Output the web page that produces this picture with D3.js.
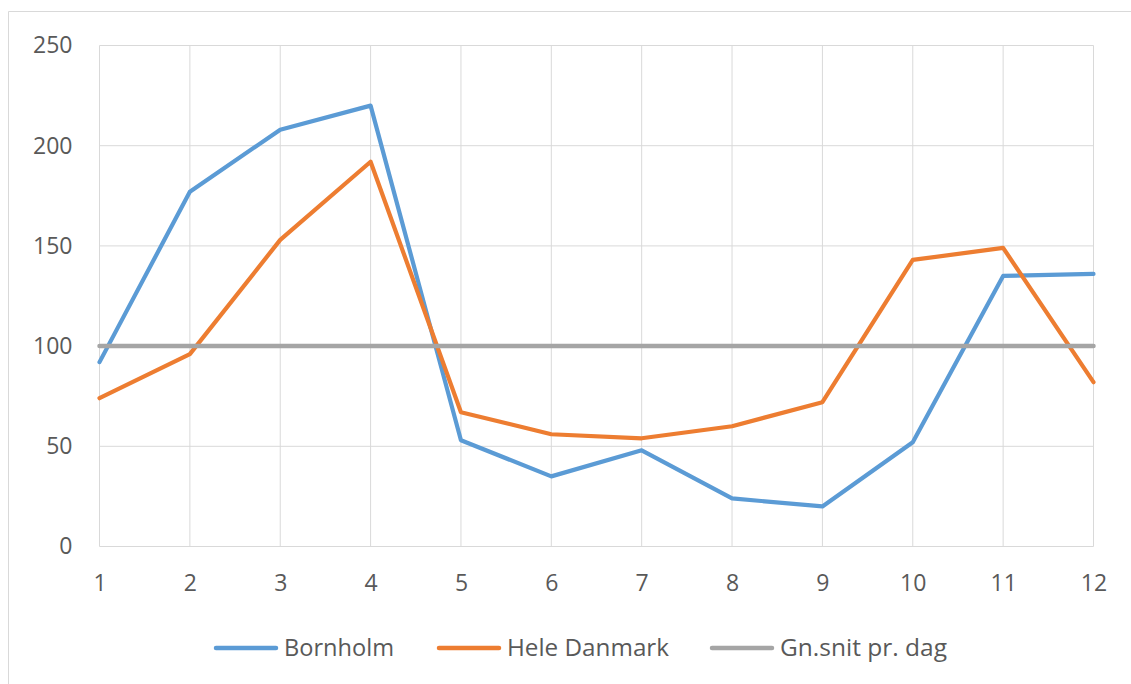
<!DOCTYPE html>
<html>
<head>
<meta charset="utf-8">
<script src="https://cdn.jsdelivr.net/npm/d3@7"></script>
<style>
  html, body { margin: 0; padding: 0; background: #fff; }
  svg { display: block; }
  text { font-family: "Open Sans", "Noto Sans", sans-serif; fill: #595959; }
</style>
</head>
<body>
<svg id="chart" width="1131" height="684"></svg>
<script>
const months = [1, 2, 3, 4, 5, 6, 7, 8, 9, 10, 11, 12];
const bornholm = [92, 177, 208, 220, 53, 35, 48, 24, 20, 52, 135, 136];
const heleDanmark = [74, 96, 153, 192, 67, 56, 54, 60, 72, 143, 149, 82];
const gnSnit = [100, 100, 100, 100, 100, 100, 100, 100, 100, 100, 100, 100];
const yTicks = [0, 50, 100, 150, 200, 250];
const seriesNames = ["Bornholm", "Hele Danmark", "Gn.snit pr. dag"];
const seriesColors = ["#5b9bd5", "#ed7d31", "#a5a5a5"];

const svg = d3.select("#chart");

// outer chart border (top & left visible)
svg.append("line").attr("x1", 8.5).attr("x2", 1131).attr("y1", 11.5).attr("y2", 11.5)
  .attr("stroke", "#d9d9d9").attr("stroke-width", 1);
svg.append("line").attr("x1", 8.5).attr("x2", 8.5).attr("y1", 11.5).attr("y2", 684)
  .attr("stroke", "#d9d9d9").attr("stroke-width", 1);

const x = d3.scaleLinear().domain([1, 12]).range([99.5, 1093.5]);
const y = d3.scaleLinear().domain([0, 250]).range([546.5, 45.5]);

const g = svg.append("g");

// grid
g.selectAll("line.vgrid").data(months).join("line")
  .attr("class", "vgrid")
  .attr("x1", d => x(d)).attr("x2", d => x(d))
  .attr("y1", y(250)).attr("y2", y(0))
  .attr("stroke", "#d9d9d9").attr("stroke-width", 1);
g.selectAll("line.hgrid").data(yTicks).join("line")
  .attr("class", "hgrid")
  .attr("x1", x(1)).attr("x2", x(12))
  .attr("y1", d => y(d)).attr("y2", d => y(d))
  .attr("stroke", "#d9d9d9").attr("stroke-width", 1);

// y tick labels
const yAxis = d3.axisLeft(y).tickValues(yTicks).tickSize(0).tickPadding(27);
const ya = svg.append("g").attr("transform", `translate(${x(1)},0)`).call(yAxis);
ya.select(".domain").remove();
ya.selectAll("text").style("font-size", "23px").attr("fill", "#595959")
  .style("font-family", '"Open Sans", sans-serif');

// x tick labels
const xAxis = d3.axisBottom(x).tickValues(months).tickSize(0).tickPadding(28);
const xa = svg.append("g").attr("transform", `translate(0,${y(0)})`).call(xAxis);
xa.select(".domain").remove();
xa.selectAll("text").style("font-size", "23px").attr("fill", "#595959")
  .style("font-family", '"Open Sans", sans-serif');

// lines
const lineGen = d3.line().x((d, i) => x(months[i])).y(d => y(d));
const allSeries = [bornholm, heleDanmark, gnSnit];
svg.selectAll("path.series").data(allSeries).join("path")
  .attr("class", "series")
  .attr("d", d => lineGen(d))
  .attr("fill", "none")
  .attr("stroke", (d, i) => seriesColors[i])
  .attr("stroke-width", (d, i) => i === 2 ? 4.5 : 4.2)
  .attr("stroke-linejoin", "round")
  .attr("stroke-linecap", "round");

// legend
const legendX = [216, 439, 712];
const legendTextLen = [110, 162, 167];
const leg = svg.selectAll("g.leg").data(seriesNames).join("g")
  .attr("class", "leg")
  .attr("transform", (d, i) => `translate(${legendX[i]},648)`);
leg.append("line").attr("x1", 0).attr("x2", 60).attr("y1", 0).attr("y2", 0)
  .attr("stroke", (d, i) => seriesColors[i]).attr("stroke-width", 4.5)
  .attr("stroke-linecap", "round");
leg.append("text").attr("x", 68).attr("y", 0).attr("dy", "0.35em")
  .style("font-size", "23px")
  .attr("textLength", (d, i) => legendTextLen[i])
  .attr("lengthAdjust", "spacingAndGlyphs")
  .text(d => d);
</script>
</body>
</html>
